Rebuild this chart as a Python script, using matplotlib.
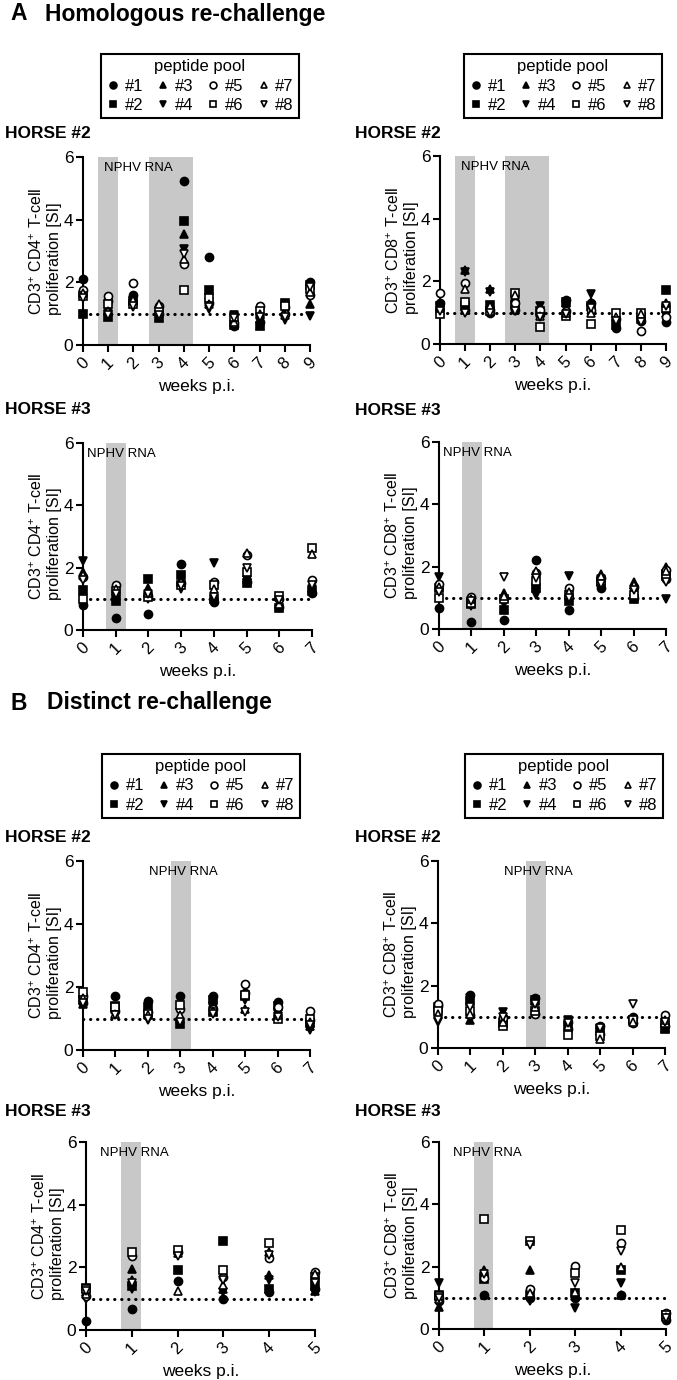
import numpy as np
import matplotlib
matplotlib.use('Agg')
import matplotlib.pyplot as plt
from matplotlib.lines import Line2D

plt.rcParams['font.family'] = ['Liberation Sans', 'DejaVu Sans']
plt.rcParams['mathtext.fontset'] = 'custom'
plt.rcParams['mathtext.rm'] = 'Liberation Sans'
plt.rcParams['mathtext.it'] = 'Liberation Sans:italic'
plt.rcParams['mathtext.bf'] = 'Liberation Sans:bold'

pools = ['#1', '#2', '#3', '#4', '#5', '#6', '#7', '#8']

# rows = weeks p.i., columns = peptide pool #1..#8 (SI)
a_h2_weeks = [0, 1, 2, 3, 4, 5, 6, 7, 8, 9]
a_h2_cd4 = [
    [2.1, 1.0, 1.7, 1.6, 1.75, 1.55, 1.65, 1.5],
    [1.4, 0.88, 1.2, 1.0, 1.55, 1.3, 1.1, 0.95],
    [1.6, 1.4, 1.5, 1.2, 1.98, 1.3, 1.45, 1.25],
    [1.0, 0.85, 1.2, 0.9, 1.25, 1.1, 1.3, 0.95],
    [5.25, 3.95, 3.55, 3.05, 2.6, 1.75, 2.75, 2.9],
    [2.8, 1.75, 1.6, 1.15, 1.35, 1.5, 1.3, 1.2],
    [0.6, 0.65, 0.8, 0.95, 0.7, 0.9, 0.75, 0.85],
    [0.75, 0.62, 0.95, 0.8, 1.25, 1.1, 1.0, 0.9],
    [1.2, 1.35, 1.1, 0.8, 1.0, 1.25, 0.95, 0.9],
    [2.0, 1.9, 1.3, 0.92, 1.6, 1.8, 1.7, 1.85],
]
a_h2_cd8 = [
    [1.3, 1.2, 1.1, 1.0, 1.64, 0.95, 1.15, 1.05],
    [1.1, 1.2, 2.35, 2.3, 1.95, 1.35, 1.75, 1.0],
    [1.0, 1.25, 1.75, 1.65, 1.1, 1.05, 1.2, 1.0],
    [1.1, 1.25, 1.5, 1.45, 1.3, 1.64, 1.55, 1.05],
    [0.95, 1.05, 1.0, 1.2, 1.1, 0.55, 0.9, 0.85],
    [1.4, 1.35, 1.3, 1.25, 1.05, 0.9, 1.0, 0.95],
    [1.3, 1.2, 1.35, 1.6, 1.1, 0.65, 1.0, 1.15],
    [0.5, 0.6, 0.9, 0.7, 0.8, 1.0, 0.85, 0.75],
    [0.75, 0.8, 0.9, 0.85, 0.43, 1.0, 0.95, 0.7],
    [0.7, 1.73, 1.0, 0.9, 0.85, 1.15, 1.3, 1.2],
]
a_h3_weeks = [0, 1, 2, 3, 4, 5, 6, 7]
a_h3_cd4 = [
    [0.8, 1.28, 1.85, 2.2, 1.7, 1.0, 1.75, 1.6],
    [0.4, 0.92, 1.1, 1.0, 1.45, 1.25, 1.3, 1.15],
    [0.5, 1.65, 1.35, 1.0, 1.1, 1.05, 1.2, 1.15],
    [2.12, 1.75, 1.6, 1.3, 1.5, 1.45, 1.55, 1.4],
    [0.9, 1.0, 1.1, 2.14, 1.55, 1.45, 1.3, 1.05],
    [1.55, 1.5, 1.65, 1.6, 2.4, 1.85, 2.48, 2.0],
    [0.75, 0.7, 1.05, 0.9, 1.0, 1.1, 0.85, 0.95],
    [1.2, 1.25, 1.35, 1.3, 1.6, 2.62, 2.45, 1.45],
]
a_h3_cd8 = [
    [0.66, 1.3, 1.4, 1.68, 1.45, 1.0, 1.35, 1.2],
    [0.21, 0.8, 0.9, 0.75, 1.02, 0.85, 0.95, 0.9],
    [0.29, 0.6, 1.15, 0.8, 1.0, 0.95, 1.05, 1.66],
    [2.2, 1.3, 1.4, 1.1, 1.8, 1.55, 1.85, 1.65],
    [0.6, 0.9, 1.05, 1.7, 1.3, 1.1, 1.2, 1.0],
    [1.3, 1.5, 1.78, 1.6, 1.65, 1.55, 1.7, 1.45],
    [1.0, 0.95, 1.52, 1.2, 1.35, 1.1, 1.4, 1.25],
    [1.6, 1.75, 2.0, 0.95, 1.9, 1.7, 1.85, 1.5],
]
b_h2_weeks = [0, 1, 2, 3, 4, 5, 6, 7]
b_h2_cd4 = [
    [1.5, 1.6, 1.45, 1.55, 1.7, 1.83, 1.65, 1.5],
    [1.72, 1.4, 1.3, 1.2, 1.25, 1.35, 1.15, 1.1],
    [1.56, 1.35, 1.3, 0.95, 1.2, 1.14, 1.1, 1.0],
    [1.72, 0.82, 1.0, 1.2, 1.3, 1.42, 1.1, 0.9],
    [1.7, 1.6, 1.5, 1.4, 1.3, 1.2, 1.25, 1.15],
    [1.8, 1.7, 1.85, 1.6, 2.08, 1.75, 1.3, 1.2],
    [1.52, 1.4, 1.3, 1.2, 1.35, 0.98, 1.1, 1.05],
    [0.95, 0.85, 0.75, 0.65, 1.24, 1.0, 0.9, 0.8],
]
b_h2_cd8 = [
    [1.35, 1.3, 1.25, 0.85, 1.4, 1.2, 1.1, 0.9],
    [1.7, 1.5, 0.9, 1.6, 1.05, 1.2, 1.1, 1.3],
    [1.0, 0.8, 0.9, 1.15, 0.95, 0.7, 0.85, 1.0],
    [1.6, 1.55, 1.5, 1.45, 1.1, 1.2, 1.3, 1.4],
    [0.85, 0.75, 0.65, 0.9, 0.6, 0.43, 0.7, 0.8],
    [0.7, 0.6, 0.55, 0.5, 0.45, 0.4, 0.3, 0.65],
    [1.0, 0.9, 0.95, 0.85, 0.8, 0.9, 0.85, 1.4],
    [0.7, 0.6, 0.65, 0.75, 1.05, 0.8, 0.9, 0.85],
]
b_h3_weeks = [0, 1, 2, 3, 4, 5]
b_h3_cd4 = [
    [0.3, 1.35, 1.2, 1.0, 1.1, 1.3, 1.15, 1.25],
    [0.67, 1.4, 1.95, 1.3, 2.35, 2.48, 1.6, 1.5],
    [1.56, 1.9, 2.45, 2.4, 2.5, 2.55, 1.26, 2.35],
    [1.0, 2.83, 1.3, 1.2, 1.7, 1.9, 1.45, 1.58],
    [1.2, 1.3, 1.75, 1.6, 2.3, 2.78, 2.5, 2.4],
    [1.3, 1.4, 1.25, 1.2, 1.84, 1.7, 1.8, 1.5],
]
b_h3_cd8 = [
    [0.9, 1.1, 0.72, 1.47, 1.0, 1.05, 0.95, 1.0],
    [1.1, 1.6, 1.9, 1.7, 1.65, 3.52, 1.85, 1.75],
    [1.0, 1.1, 1.9, 0.9, 1.28, 2.83, 1.15, 2.7],
    [1.0, 1.15, 1.05, 0.67, 2.02, 1.81, 1.2, 1.47],
    [1.1, 1.9, 1.1, 1.47, 2.77, 3.18, 2.0, 2.5],
    [0.3, 0.45, 0.4, 0.35, 0.5, 0.45, 0.4, 0.35],
]

# NPHV RNA positive periods (weeks p.i.)
a_h2_rna = [(0.6, 1.4), (2.6, 4.35)]
a_h3_rna = [(0.7, 1.32)]
b_h2_rna = [(2.7, 3.32)]
b_h3_rna = [(0.77, 1.2)]

W, H = 677, 1380
fig = plt.figure(figsize=(W / 100, H / 100), dpi=100)

styles = [('o', 'k'), ('s', 'k'), ('^', 'k'), ('v', 'k'),
          ('o', 'w'), ('s', 'w'), ('^', 'w'), ('v', 'w')]
msize = {'o': 5.8, 's': 5.2, '^': 5.6, 'v': 5.6}


def panel(rect, weeks, vals, rna, txt_x, cd):
    l, r, t, b = rect
    ax = fig.add_axes([l / W, 1 - b / H, (r - l) / W, (b - t) / H])
    for lo, hi in rna:
        ax.axvspan(lo, hi, color='#c8c8c8', lw=0, zorder=0)
    ax.text(txt_x, 5.65, 'NPHV RNA', fontsize=9.5, va='center', ha='left', zorder=1)
    ax.axhline(1, color='k', lw=2.2, linestyle=(0, (0.1, 2.2)),
               dash_capstyle='round', zorder=2)
    vals = np.array(vals)
    for i in range(8):
        m, fc = styles[i]
        ax.plot(weeks, vals[:, i], ls='none', marker=m, mfc=fc, mec='k',
                mew=1.2, ms=msize[m], clip_on=False, zorder=3 + i)
    ax.set_xlim(0, weeks[-1])
    ax.set_ylim(0, 6)
    ax.set_xticks(weeks)
    ax.set_xticklabels([str(w) for w in weeks], rotation=45, ha='center', fontsize=12)
    ax.set_yticks([0, 2, 4, 6])
    ax.tick_params(axis='y', labelsize=12.5, width=1.5, length=5, pad=2)
    ax.tick_params(axis='x', width=1.5, length=5, pad=2)
    for s in ['top', 'right']:
        ax.spines[s].set_visible(False)
    for s in ['left', 'bottom']:
        ax.spines[s].set_linewidth(1.5)
    ax.set_xlabel('weeks p.i.', fontsize=12.5, labelpad=5)
    ax.set_ylabel('CD3$^{+}$ CD%d$^{+}$ T-cell\nproliferation [SI]' % cd,
                  fontsize=11.5, labelpad=1, linespacing=1.2, multialignment='left')
    return ax


def legend(cx, cy):
    handles = [Line2D([], [], ls='none', marker=m, mfc=fc, mec='k', mew=1.2,
                      ms=msize[m] * 0.85) for m, fc in styles]
    lg = fig.legend(handles, pools, ncol=4, title='peptide pool', loc='center',
                    bbox_to_anchor=(cx / W, 1 - cy / H), fontsize=12,
                    title_fontsize=12, handlelength=0.8, handletextpad=0.3,
                    columnspacing=0.8, borderpad=0.3, labelspacing=0.25,
                    fancybox=False, edgecolor='k', framealpha=1)
    lg.get_frame().set_linewidth(1.5)


def label(x, y, s, size, bold=True):
    fig.text(x / W, 1 - y / H, s, fontsize=size, weight='bold' if bold else 'normal',
             va='center', ha='left')


# A: homologous re-challenge
label(10, 14, 'A', 16.5)
label(45, 14, 'Homologous re-challenge', 16.5)
legend(200, 86)
legend(563, 86)
label(5, 133, 'HORSE #2', 12.5)
label(355, 133, 'HORSE #2', 12.5)
panel((83, 310, 157, 345), a_h2_weeks, a_h2_cd4, a_h2_rna, 0.85, 4)
panel((440, 666, 156, 344), a_h2_weeks, a_h2_cd8, a_h2_rna, 0.85, 8)
label(5, 410, 'HORSE #3', 12.5)
label(355, 411, 'HORSE #3', 12.5)
panel((83, 312, 443, 630), a_h3_weeks, a_h3_cd4, a_h3_rna, 0.13, 4)
panel((439, 666, 442, 629), a_h3_weeks, a_h3_cd8, a_h3_rna, 0.13, 8)

# B: distinct re-challenge
label(10, 703, 'B', 16.5)
label(47, 703, 'Distinct re-challenge', 16.5)
legend(201, 786)
legend(564, 786)
label(5, 838, 'HORSE #2', 12.5)
label(355, 838, 'HORSE #2', 12.5)
panel((83, 310, 861, 1050), b_h2_weeks, b_h2_cd4, b_h2_rna, 2.05, 4)
panel((438, 665, 861, 1048), b_h2_weeks, b_h2_cd8, b_h2_rna, 2.05, 8)
label(5, 1112, 'HORSE #3', 12.5)
label(355, 1112, 'HORSE #3', 12.5)
panel((86, 315, 1142, 1330), b_h3_weeks, b_h3_cd4, b_h3_rna, 0.3, 4)
panel((439, 666, 1142, 1329), b_h3_weeks, b_h3_cd8, b_h3_rna, 0.3, 8)

fig.savefig('out.png', dpi=100)
